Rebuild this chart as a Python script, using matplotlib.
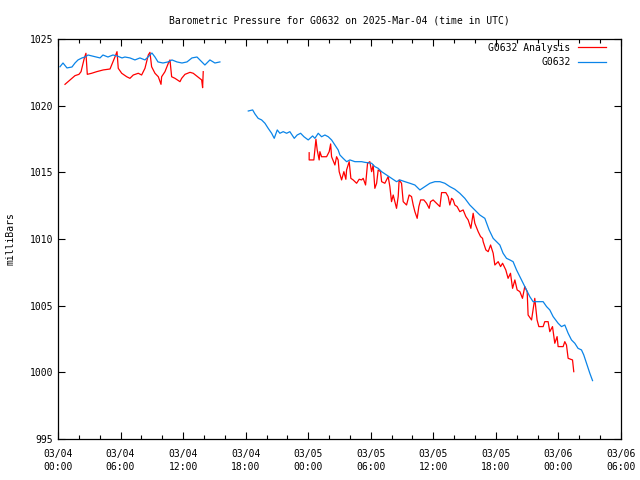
import numpy as np
import matplotlib
matplotlib.use('Agg')
import matplotlib.pyplot as plt
from matplotlib.ticker import MultipleLocator

# hours since 03/04 00:00 UTC, pressure in mb; nan marks a data gap
blue_h = [0.19, 0.48, 0.86, 1.34, 1.63, 1.92, 2.30, 2.59, 2.88, 3.26, 3.74, 4.03, 4.31, 4.79,
          5.27, 5.66, 6.14, 6.42, 6.90, 7.38, 7.86, 8.34, 8.63, 9.01, 9.30, 9.59, 10.07, 10.55,
          10.93, 11.41, 11.89, 12.37, 12.85, 13.33, 13.61, 14.09, 14.57, 15.05, 15.53,
          np.nan,
          18.25, 18.67, 18.89, 19.20, 19.53, 19.85, 20.16, 20.49, 20.74, 21.03, 21.28, 21.60,
          21.93, 22.24, 22.66, 22.94, 23.27, 23.59, 24.00, 24.42, 24.64, 24.96, 25.28, 25.60,
          25.92, 26.24, 26.56, 26.87, 27.04, 27.35, 27.68, 28.00, 28.48, 28.79, 29.12, 29.43,
          30.08, 30.39, 30.71, 31.04, 31.52, 31.99, 32.47, 32.79, 33.27, 33.75, 34.23, 34.71,
          35.19, 35.67, 36.15, 36.63, 37.10, 37.58, 38.06, 38.54, 39.02, 39.50, 39.98, 40.46,
          40.94, 41.35, 41.74, 42.06, 42.38, 42.69, 43.02, 43.34, 43.65, 43.98, 44.30, 44.61,
          44.94, 45.25, 45.57, 46.05, 46.53, 46.86, 47.17, 47.49, 47.97, 48.29, 48.61, 48.93,
          49.25, 49.57, 49.88, 50.21, 50.43, 50.69, 51.01, 51.27]
blue_p = [1022.92, 1023.20, 1022.83, 1022.90, 1023.20, 1023.43, 1023.58, 1023.65, 1023.80,
          1023.73, 1023.65, 1023.58, 1023.80, 1023.65, 1023.80, 1023.73, 1023.58, 1023.65,
          1023.58, 1023.43, 1023.58, 1023.43, 1023.65, 1023.95, 1023.65, 1023.28, 1023.20,
          1023.28, 1023.43, 1023.28, 1023.20, 1023.28, 1023.58, 1023.65, 1023.43, 1023.05,
          1023.43, 1023.20, 1023.28,
          np.nan,
          1019.60, 1019.68, 1019.38, 1019.05, 1018.93, 1018.68, 1018.30, 1017.93, 1017.55,
          1018.18, 1017.93, 1018.05, 1017.93, 1018.05, 1017.55, 1017.80, 1017.93, 1017.67,
          1017.43, 1017.73, 1017.55, 1017.93, 1017.67, 1017.80, 1017.67, 1017.43, 1017.05,
          1016.68, 1016.30, 1016.05, 1015.80, 1015.93, 1015.80, 1015.80, 1015.80, 1015.75,
          1015.68, 1015.43, 1015.30, 1015.05, 1014.80, 1014.55, 1014.30, 1014.43, 1014.30,
          1014.18, 1014.05, 1013.68, 1013.93, 1014.18, 1014.30, 1014.30, 1014.18, 1013.93,
          1013.73, 1013.43, 1013.05, 1012.55, 1012.18, 1011.80, 1011.55, 1010.68, 1010.05,
          1009.80, 1009.55, 1008.93, 1008.55, 1008.43, 1008.30, 1007.68, 1007.18, 1006.68,
          1006.18, 1005.68, 1005.30, 1005.30, 1005.30, 1004.93, 1004.68, 1004.18, 1003.68,
          1003.43, 1003.55, 1002.93, 1002.43, 1002.18, 1001.80, 1001.68, 1001.30, 1000.68,
          999.93, 999.38]

red_h = [0.67, 1.15, 1.63, 2.01, 2.21, 2.52, 2.68, 2.81, 3.23, 3.71, 4.34, 4.99, 5.15, 5.47,
         5.66, 5.78, 6.11, 6.59, 6.90, 7.22, 7.70, 8.02, 8.34, 8.66, 8.82, 8.98, 9.30, 9.62,
         9.88, 9.94, 10.26, 10.58, 10.74, 10.90, 11.22, 11.70, 11.86, 12.18, 12.66, 12.97,
         13.39, 13.78, 13.87, 13.93,
         np.nan,
         24.09, 24.09, 24.54, 24.74, 24.86, 25.05, 25.12, 25.28, 25.76, 26.01, 26.15, 26.24,
         26.56, 26.72, 26.87, 26.97, 27.20, 27.42, 27.61, 27.68, 27.93, 28.09, 28.31, 28.64,
         28.89, 29.12, 29.27, 29.50, 29.69, 29.91, 30.08, 30.23, 30.39, 30.56, 30.71, 30.94,
         31.04, 31.35, 31.67, 31.83, 31.99, 32.15, 32.31, 32.47, 32.63, 32.72, 32.95, 33.11,
         33.43, 33.68, 33.91, 34.07, 34.23, 34.45, 34.61, 34.78, 35.09, 35.35, 35.60, 35.73,
         35.98, 36.31, 36.63, 36.79, 37.20, 37.42, 37.58, 37.75, 37.90, 38.06, 38.28, 38.54,
         38.86, 39.12, 39.34, 39.60, 39.82, 39.98, 40.30, 40.53, 40.72, 40.78, 41.04, 41.26,
         41.49, 41.74, 41.90, 42.22, 42.45, 42.64, 42.95, 43.17, 43.40, 43.60, 43.82, 44.04,
         44.30, 44.55, 44.77, 45.00, 45.09, 45.42, 45.73, 45.95, 46.12, 46.53, 46.69, 47.01,
         47.17, 47.43, 47.65, 47.87, 47.97, 48.45, 48.61, 48.77, 48.93, 49.35, 49.47]
red_p = [1021.60, 1021.93, 1022.25, 1022.35, 1022.55, 1023.55, 1023.93, 1022.35, 1022.43,
         1022.55, 1022.68, 1022.75, 1023.05, 1023.67, 1024.05, 1022.80, 1022.43, 1022.17,
         1022.05, 1022.30, 1022.43, 1022.30, 1022.80, 1023.80, 1024.00, 1022.92, 1022.43,
         1022.17, 1021.60, 1022.17, 1022.55, 1023.18, 1023.43, 1022.17, 1022.05, 1021.80,
         1022.05, 1022.35, 1022.50, 1022.43, 1022.17, 1021.93, 1021.35, 1022.55,
         np.nan,
         1016.47, 1015.93, 1015.93, 1017.48, 1016.68, 1015.93, 1016.55, 1016.17, 1016.17,
         1016.55, 1017.13, 1016.17, 1015.55, 1016.17, 1015.93, 1015.05, 1014.43, 1015.05,
         1014.48, 1015.18, 1015.80, 1014.55, 1014.43, 1014.18, 1014.48, 1014.43, 1014.55,
         1014.05, 1015.68, 1015.80, 1015.05, 1015.55, 1013.80, 1014.18, 1015.18, 1015.05,
         1014.30, 1014.18, 1014.68, 1013.93, 1012.80, 1013.30, 1012.80, 1012.30, 1013.18,
         1014.43, 1014.18, 1012.80, 1012.55, 1013.30, 1013.18, 1012.55, 1012.05, 1011.55,
         1012.43, 1012.93, 1012.93, 1012.68, 1012.30, 1012.80, 1012.93, 1012.68, 1012.43,
         1013.48, 1013.48, 1013.18, 1012.55, 1013.05, 1012.93, 1012.55, 1012.43, 1012.05,
         1012.18, 1011.68, 1011.43, 1010.80, 1011.93, 1011.18, 1010.55, 1010.18, 1010.05,
         1009.80, 1009.18, 1009.05, 1009.55, 1008.93, 1008.05, 1008.30, 1007.93, 1008.18,
         1007.68, 1007.05, 1007.43, 1006.30, 1006.93, 1006.18, 1006.05, 1005.55, 1006.43,
         1006.05, 1004.30, 1003.93, 1005.55, 1003.93, 1003.43, 1003.43, 1003.80, 1003.80,
         1003.05, 1003.43, 1002.18, 1002.68, 1001.93, 1001.93, 1002.30, 1002.05, 1001.05,
         1000.93, 1000.05]

tick_hours = [0, 6, 12, 18, 24, 30, 36, 42, 48, 54]
tick_labels = ['03/04\n00:00', '03/04\n06:00', '03/04\n12:00', '03/04\n18:00',
               '03/05\n00:00', '03/05\n06:00', '03/05\n12:00', '03/05\n18:00',
               '03/06\n00:00', '03/06\n06:00']

plt.rcParams['font.family'] = ['DejaVu Sans Mono']
plt.rcParams['font.size'] = 7

fig = plt.figure(figsize=(6.4, 4.8), dpi=100)
ax = fig.add_axes([58 / 640, 1 - 439 / 480, 563 / 640, 400 / 480])

ax.plot(red_h, red_p, color='#ff0000', lw=0.9, label='G0632 Analysis')
ax.plot(blue_h, blue_p, color='#0a84e8', lw=0.9, label='G0632')

ax.set_xlim(0, 54)
ax.set_ylim(995, 1025)
ax.set_xticks(tick_hours)
ax.set_xticklabels(tick_labels, linespacing=1.35)
ax.xaxis.set_minor_locator(MultipleLocator(2))
ax.yaxis.set_major_locator(MultipleLocator(5))
ax.tick_params(which='both', direction='in', top=True, right=True, width=0.8)
ax.tick_params(which='major', length=5)
ax.tick_params(which='minor', length=3)
ax.tick_params(axis='x', pad=7)
for s in ax.spines.values():
    s.set_linewidth(0.9)

ax.set_ylabel('milliBars', labelpad=10)
ax.set_title('Barometric Pressure for G0632 on 2025-Mar-04 (time in UTC)', fontsize=7, pad=11)

ax.legend(loc='upper right', bbox_to_anchor=(0.985, 1.008), frameon=False,
          markerfirst=False, handlelength=2.9, handletextpad=0.7, labelspacing=0.45,
          borderaxespad=0.3)

fig.savefig('out.png', dpi=100)
